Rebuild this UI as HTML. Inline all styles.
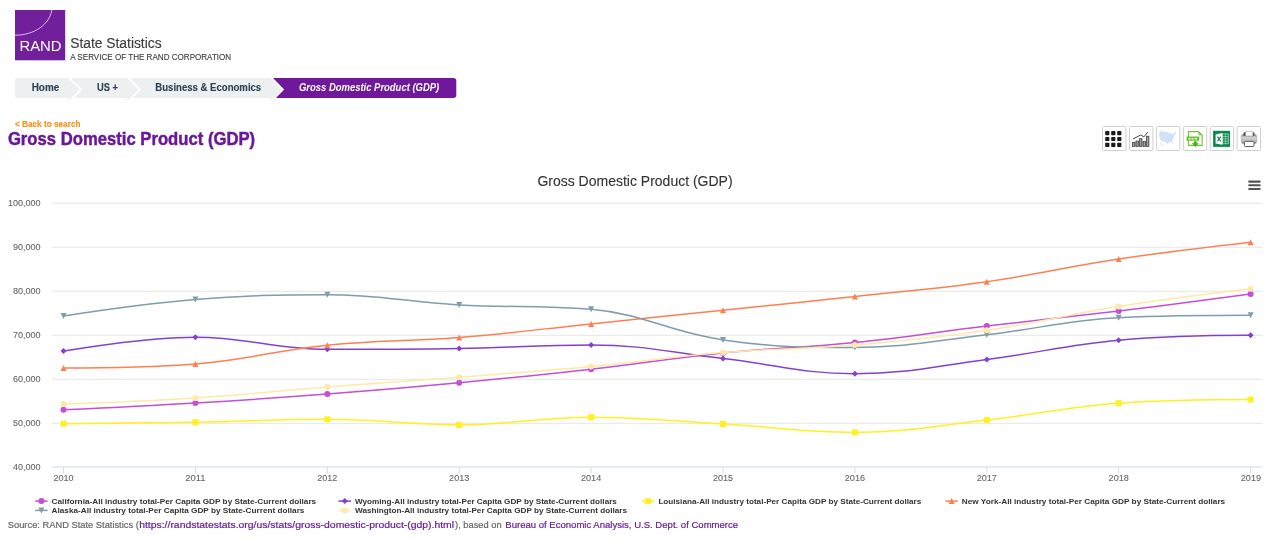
<!DOCTYPE html>
<html><head><meta charset="utf-8"><title>Gross Domestic Product (GDP)</title>
<style>
html,body{margin:0;padding:0;background:#fff;}
body{width:1270px;height:540px;position:relative;overflow:hidden;font-family:"Liberation Sans",sans-serif;}
.abs{position:absolute;white-space:nowrap;line-height:1;}
#logo{left:15px;top:10px;width:50px;height:50px;background:#711f9b;}
#rand{left:19.4px;top:39.6px;font-size:13px;letter-spacing:1.55px;color:#fff;}
#ss{left:69.6px;top:35.6px;font-size:14px;letter-spacing:-0.07px;color:#4a4a4a;}
#svc{left:70px;top:53.6px;font-size:8.1px;color:#4a4a4a;}
.bc{font-size:10px;font-weight:bold;letter-spacing:-0.2px;color:#34495e;top:83.2px;}
#bc4{color:#fff;font-style:italic;letter-spacing:-0.3px;}
#back{left:15px;top:119.8px;font-size:8.5px;font-weight:bold;letter-spacing:-0.15px;color:#f7941d;}
#h1{left:7.2px;top:130.2px;font-size:17.5px;font-weight:bold;letter-spacing:-0.45px;color:#6f1d9b;}
#src{left:7.4px;top:519.6px;font-size:9.87px;color:#666;}
#src span{color:#6f1d9b;}
svg{position:absolute;left:0;top:0;will-change:transform;font-family:"Liberation Sans",sans-serif;}
.ax{font-size:9px;fill:#666;stroke:#666;stroke-width:0.1px;font-family:"Liberation Sans",sans-serif;}
.ttl{font-size:14px;fill:#333;stroke:#333;stroke-width:0.15px;font-family:"Liberation Sans",sans-serif;}
.lg{font-size:8px;font-weight:bold;fill:#333;font-family:"Liberation Sans",sans-serif;}
</style></head><body>
<svg width="1270" height="540" viewBox="0 0 1270 540">
<!-- logo -->
<rect x="15" y="10" width="50.2" height="50.3" fill="#711f9b"/>
<path d="M51.9 10 C49.5 24 35 35.2 15 35.2" stroke="#e3cdef" stroke-width="0.9" fill="none"/>
<!-- breadcrumb -->
<g>
<rect x="15" y="78" width="60" height="20" rx="3" fill="#ecf0f1"/>
<rect x="30" y="78" width="241" height="20" fill="#ecf0f1"/>
<rect x="400" y="78" width="56.3" height="20" rx="3" fill="#70189c"/>
<rect x="270.5" y="78" width="170" height="20" fill="#70189c"/>
<path d="M270.5 75.6 L284.2 89.5 L270.5 103.4Z" fill="#fff"/>
<path d="M269.5 78 L270.5 78 L281.8 89.5 L270.5 101 L270.5 98 L269.5 98Z" fill="#ecf0f1"/>
<path d="M127.3 75.6 L141.0 89.5 L127.3 103.4Z" fill="#fff"/>
<path d="M126.3 78 L127.3 78 L138.6 89.5 L127.3 101 L127.3 98 L126.3 98Z" fill="#ecf0f1"/>
<path d="M68.3 75.6 L82.0 89.5 L68.3 103.4Z" fill="#fff"/>
<path d="M67.3 78 L68.3 78 L79.6 89.5 L68.3 101 L68.3 98 L67.3 98Z" fill="#ecf0f1"/>
</g>
<path d="M 52 203.3 L 1262.4 203.3" stroke="#e6e6e6" stroke-width="1" fill="none"/>
<path d="M 52 247.3 L 1262.4 247.3" stroke="#e6e6e6" stroke-width="1" fill="none"/>
<path d="M 52 291.3 L 1262.4 291.3" stroke="#e6e6e6" stroke-width="1" fill="none"/>
<path d="M 52 335.3 L 1262.4 335.3" stroke="#e6e6e6" stroke-width="1" fill="none"/>
<path d="M 52 379.3 L 1262.4 379.3" stroke="#e6e6e6" stroke-width="1" fill="none"/>
<path d="M 52 423.3 L 1262.4 423.3" stroke="#e6e6e6" stroke-width="1" fill="none"/>
<path d="M 52 467 L 1262 467" stroke="#ccd6eb" stroke-width="1" fill="none"/>
<path d="M 63.5 467 L 63.5 473.5" stroke="#d3dcef" stroke-width="1" fill="none"/>
<path d="M 195.4 467 L 195.4 473.5" stroke="#d3dcef" stroke-width="1" fill="none"/>
<path d="M 327.3 467 L 327.3 473.5" stroke="#d3dcef" stroke-width="1" fill="none"/>
<path d="M 459.2 467 L 459.2 473.5" stroke="#d3dcef" stroke-width="1" fill="none"/>
<path d="M 591.1 467 L 591.1 473.5" stroke="#d3dcef" stroke-width="1" fill="none"/>
<path d="M 723.0 467 L 723.0 473.5" stroke="#d3dcef" stroke-width="1" fill="none"/>
<path d="M 854.9 467 L 854.9 473.5" stroke="#d3dcef" stroke-width="1" fill="none"/>
<path d="M 986.8 467 L 986.8 473.5" stroke="#d3dcef" stroke-width="1" fill="none"/>
<path d="M 1118.7 467 L 1118.7 473.5" stroke="#d3dcef" stroke-width="1" fill="none"/>
<path d="M 1250.6 467 L 1250.6 473.5" stroke="#d3dcef" stroke-width="1" fill="none"/>
<path d="M 63.50 409.80 C 63.50 409.80 142.64 406.14 195.40 403.00 C 248.16 399.86 274.54 398.14 327.30 394.10 C 380.06 390.06 406.44 387.78 459.20 382.80 C 511.96 377.82 538.34 375.18 591.10 369.20 C 643.86 363.22 670.24 358.22 723.00 352.90 C 775.76 347.58 802.14 347.98 854.90 342.60 C 907.66 337.22 934.04 332.32 986.80 326.00 C 1039.56 319.68 1065.94 317.38 1118.70 311.00 C 1171.46 304.62 1250.60 294.10 1250.60 294.10" stroke="#c34fd6" stroke-width="1.5" fill="none" stroke-linejoin="round" stroke-linecap="round"/>
<circle cx="63.50" cy="409.80" r="3" fill="#c34fd6"/>
<circle cx="195.40" cy="403.00" r="3" fill="#c34fd6"/>
<circle cx="327.30" cy="394.10" r="3" fill="#c34fd6"/>
<circle cx="459.20" cy="382.80" r="3" fill="#c34fd6"/>
<circle cx="591.10" cy="369.20" r="3" fill="#c34fd6"/>
<circle cx="723.00" cy="352.90" r="3" fill="#c34fd6"/>
<circle cx="854.90" cy="342.60" r="3" fill="#c34fd6"/>
<circle cx="986.80" cy="326.00" r="3" fill="#c34fd6"/>
<circle cx="1118.70" cy="311.00" r="3" fill="#c34fd6"/>
<circle cx="1250.60" cy="294.10" r="3" fill="#c34fd6"/>
<path d="M 63.50 351.10 C 63.50 351.10 142.64 337.20 195.40 337.20 C 248.16 337.20 274.54 349.30 327.30 349.30 C 380.06 349.30 406.44 349.28 459.20 348.40 C 511.96 347.52 538.34 344.90 591.10 344.90 C 643.86 344.90 670.24 352.72 723.00 358.50 C 775.76 364.28 802.14 373.80 854.90 373.80 C 907.66 373.80 934.04 366.22 986.80 359.50 C 1039.56 352.78 1065.94 345.04 1118.70 340.20 C 1171.46 335.36 1250.60 335.30 1250.60 335.30" stroke="#8340d0" stroke-width="1.5" fill="none" stroke-linejoin="round" stroke-linecap="round"/>
<path d="M 63.50 348.10 L 66.50 351.10 L 63.50 354.10 L 60.50 351.10 Z" fill="#8340d0"/>
<path d="M 195.40 334.20 L 198.40 337.20 L 195.40 340.20 L 192.40 337.20 Z" fill="#8340d0"/>
<path d="M 327.30 346.30 L 330.30 349.30 L 327.30 352.30 L 324.30 349.30 Z" fill="#8340d0"/>
<path d="M 459.20 345.40 L 462.20 348.40 L 459.20 351.40 L 456.20 348.40 Z" fill="#8340d0"/>
<path d="M 591.10 341.90 L 594.10 344.90 L 591.10 347.90 L 588.10 344.90 Z" fill="#8340d0"/>
<path d="M 723.00 355.50 L 726.00 358.50 L 723.00 361.50 L 720.00 358.50 Z" fill="#8340d0"/>
<path d="M 854.90 370.80 L 857.90 373.80 L 854.90 376.80 L 851.90 373.80 Z" fill="#8340d0"/>
<path d="M 986.80 356.50 L 989.80 359.50 L 986.80 362.50 L 983.80 359.50 Z" fill="#8340d0"/>
<path d="M 1118.70 337.20 L 1121.70 340.20 L 1118.70 343.20 L 1115.70 340.20 Z" fill="#8340d0"/>
<path d="M 1250.60 332.30 L 1253.60 335.30 L 1250.60 338.30 L 1247.60 335.30 Z" fill="#8340d0"/>
<path d="M 63.50 423.70 C 63.50 423.70 142.64 423.08 195.40 422.20 C 248.16 421.32 274.54 419.30 327.30 419.30 C 380.06 419.30 406.44 424.90 459.20 424.90 C 511.96 424.90 538.34 417.20 591.10 417.20 C 643.86 417.20 670.24 420.96 723.00 424.00 C 775.76 427.04 802.14 432.40 854.90 432.40 C 907.66 432.40 934.04 425.84 986.80 420.00 C 1039.56 414.16 1065.94 406.80 1118.70 403.20 C 1171.46 399.60 1250.60 399.60 1250.60 399.60" stroke="#fff11f" stroke-width="1.5" fill="none" stroke-linejoin="round" stroke-linecap="round"/>
<rect x="60.50" y="420.70" width="6" height="6" fill="#fff11f"/>
<rect x="192.40" y="419.20" width="6" height="6" fill="#fff11f"/>
<rect x="324.30" y="416.30" width="6" height="6" fill="#fff11f"/>
<rect x="456.20" y="421.90" width="6" height="6" fill="#fff11f"/>
<rect x="588.10" y="414.20" width="6" height="6" fill="#fff11f"/>
<rect x="720.00" y="421.00" width="6" height="6" fill="#fff11f"/>
<rect x="851.90" y="429.40" width="6" height="6" fill="#fff11f"/>
<rect x="983.80" y="417.00" width="6" height="6" fill="#fff11f"/>
<rect x="1115.70" y="400.20" width="6" height="6" fill="#fff11f"/>
<rect x="1247.60" y="396.60" width="6" height="6" fill="#fff11f"/>
<path d="M 63.50 368.00 C 63.50 368.00 142.64 368.00 195.40 363.90 C 248.16 359.80 274.54 350.48 327.30 345.20 C 380.06 339.92 406.44 341.76 459.20 337.50 C 511.96 333.24 538.34 329.36 591.10 323.90 C 643.86 318.44 670.24 315.68 723.00 310.20 C 775.76 304.72 802.14 302.20 854.90 296.50 C 907.66 290.80 934.04 289.20 986.80 281.70 C 1039.56 274.20 1065.94 266.90 1118.70 259.00 C 1171.46 251.10 1250.60 242.20 1250.60 242.20" stroke="#ff7f50" stroke-width="1.5" fill="none" stroke-linejoin="round" stroke-linecap="round"/>
<path d="M 63.50 365.00 L 66.50 371.00 L 60.50 371.00 Z" fill="#ff7f50"/>
<path d="M 195.40 360.90 L 198.40 366.90 L 192.40 366.90 Z" fill="#ff7f50"/>
<path d="M 327.30 342.20 L 330.30 348.20 L 324.30 348.20 Z" fill="#ff7f50"/>
<path d="M 459.20 334.50 L 462.20 340.50 L 456.20 340.50 Z" fill="#ff7f50"/>
<path d="M 591.10 320.90 L 594.10 326.90 L 588.10 326.90 Z" fill="#ff7f50"/>
<path d="M 723.00 307.20 L 726.00 313.20 L 720.00 313.20 Z" fill="#ff7f50"/>
<path d="M 854.90 293.50 L 857.90 299.50 L 851.90 299.50 Z" fill="#ff7f50"/>
<path d="M 986.80 278.70 L 989.80 284.70 L 983.80 284.70 Z" fill="#ff7f50"/>
<path d="M 1118.70 256.00 L 1121.70 262.00 L 1115.70 262.00 Z" fill="#ff7f50"/>
<path d="M 1250.60 239.20 L 1253.60 245.20 L 1247.60 245.20 Z" fill="#ff7f50"/>
<path d="M 63.50 316.10 C 63.50 316.10 142.64 303.86 195.40 299.60 C 248.16 295.34 274.54 294.80 327.30 294.80 C 380.06 294.80 406.44 302.00 459.20 304.90 C 511.96 307.80 538.34 304.90 591.10 309.30 C 643.86 313.70 670.24 332.40 723.00 339.90 C 775.76 347.40 802.14 347.40 854.90 347.40 C 907.66 347.40 934.04 340.74 986.80 334.80 C 1039.56 328.86 1065.94 320.10 1118.70 317.70 C 1171.46 315.30 1250.60 315.30 1250.60 315.30" stroke="#7f9cab" stroke-width="1.5" fill="none" stroke-linejoin="round" stroke-linecap="round"/>
<path d="M 60.50 313.10 L 66.50 313.10 L 63.50 319.10 Z" fill="#7f9cab"/>
<path d="M 192.40 296.60 L 198.40 296.60 L 195.40 302.60 Z" fill="#7f9cab"/>
<path d="M 324.30 291.80 L 330.30 291.80 L 327.30 297.80 Z" fill="#7f9cab"/>
<path d="M 456.20 301.90 L 462.20 301.90 L 459.20 307.90 Z" fill="#7f9cab"/>
<path d="M 588.10 306.30 L 594.10 306.30 L 591.10 312.30 Z" fill="#7f9cab"/>
<path d="M 720.00 336.90 L 726.00 336.90 L 723.00 342.90 Z" fill="#7f9cab"/>
<path d="M 851.90 344.40 L 857.90 344.40 L 854.90 350.40 Z" fill="#7f9cab"/>
<path d="M 983.80 331.80 L 989.80 331.80 L 986.80 337.80 Z" fill="#7f9cab"/>
<path d="M 1115.70 314.70 L 1121.70 314.70 L 1118.70 320.70 Z" fill="#7f9cab"/>
<path d="M 1247.60 312.30 L 1253.60 312.30 L 1250.60 318.30 Z" fill="#7f9cab"/>
<path d="M 63.50 403.90 C 63.50 403.90 142.64 401.28 195.40 397.90 C 248.16 394.52 274.54 391.14 327.30 387.00 C 380.06 382.86 406.44 381.30 459.20 377.20 C 511.96 373.10 538.34 371.42 591.10 366.50 C 643.86 361.58 670.24 356.88 723.00 352.60 C 775.76 348.32 802.14 349.56 854.90 345.10 C 907.66 340.64 934.04 338.02 986.80 330.30 C 1039.56 322.58 1065.94 314.80 1118.70 306.50 C 1171.46 298.20 1250.60 288.80 1250.60 288.80" stroke="#ffe9a8" stroke-width="1.5" fill="none" stroke-linejoin="round" stroke-linecap="round"/>
<circle cx="63.50" cy="403.90" r="3" fill="#ffe9a8"/>
<circle cx="195.40" cy="397.90" r="3" fill="#ffe9a8"/>
<circle cx="327.30" cy="387.00" r="3" fill="#ffe9a8"/>
<circle cx="459.20" cy="377.20" r="3" fill="#ffe9a8"/>
<circle cx="591.10" cy="366.50" r="3" fill="#ffe9a8"/>
<circle cx="723.00" cy="352.60" r="3" fill="#ffe9a8"/>
<circle cx="854.90" cy="345.10" r="3" fill="#ffe9a8"/>
<circle cx="986.80" cy="330.30" r="3" fill="#ffe9a8"/>
<circle cx="1118.70" cy="306.50" r="3" fill="#ffe9a8"/>
<circle cx="1250.60" cy="288.80" r="3" fill="#ffe9a8"/>
<text x="40.5" y="206.2" text-anchor="end" class="ax">100,000</text>
<text x="40.5" y="250.2" text-anchor="end" class="ax">90,000</text>
<text x="40.5" y="294.2" text-anchor="end" class="ax">80,000</text>
<text x="40.5" y="338.2" text-anchor="end" class="ax">70,000</text>
<text x="40.5" y="382.2" text-anchor="end" class="ax">60,000</text>
<text x="40.5" y="426.2" text-anchor="end" class="ax">50,000</text>
<text x="40.5" y="470.2" text-anchor="end" class="ax">40,000</text>
<text x="63.5" y="481" text-anchor="middle" class="ax" style="font-size:9.5px" textLength="20.2" lengthAdjust="spacingAndGlyphs">2010</text>
<text x="195.4" y="481" text-anchor="middle" class="ax" style="font-size:9.5px" textLength="20.2" lengthAdjust="spacingAndGlyphs">2011</text>
<text x="327.3" y="481" text-anchor="middle" class="ax" style="font-size:9.5px" textLength="20.2" lengthAdjust="spacingAndGlyphs">2012</text>
<text x="459.2" y="481" text-anchor="middle" class="ax" style="font-size:9.5px" textLength="20.2" lengthAdjust="spacingAndGlyphs">2013</text>
<text x="591.1" y="481" text-anchor="middle" class="ax" style="font-size:9.5px" textLength="20.2" lengthAdjust="spacingAndGlyphs">2014</text>
<text x="723.0" y="481" text-anchor="middle" class="ax" style="font-size:9.5px" textLength="20.2" lengthAdjust="spacingAndGlyphs">2015</text>
<text x="854.9" y="481" text-anchor="middle" class="ax" style="font-size:9.5px" textLength="20.2" lengthAdjust="spacingAndGlyphs">2016</text>
<text x="986.8" y="481" text-anchor="middle" class="ax" style="font-size:9.5px" textLength="20.2" lengthAdjust="spacingAndGlyphs">2017</text>
<text x="1118.7" y="481" text-anchor="middle" class="ax" style="font-size:9.5px" textLength="20.2" lengthAdjust="spacingAndGlyphs">2018</text>
<text x="1261.0" y="481" text-anchor="end" class="ax" style="font-size:9.5px" textLength="20.2" lengthAdjust="spacingAndGlyphs">2019</text>
<text x="537.4" y="186" textLength="195.2" lengthAdjust="spacingAndGlyphs" font-size="14.7" font-weight="normal" font-style="normal" fill="#333" text-anchor="start" stroke="#333" stroke-width="0.12">Gross Domestic Product (GDP)</text>
<path d="M 1249.2 181.6 L 1259.7 181.6" stroke="#555" stroke-width="2.1" stroke-linecap="round" fill="none"/>
<path d="M 1249.2 185.3 L 1259.7 185.3" stroke="#555" stroke-width="2.1" stroke-linecap="round" fill="none"/>
<path d="M 1249.2 189.0 L 1259.7 189.0" stroke="#555" stroke-width="2.1" stroke-linecap="round" fill="none"/>
<path d="M 35.2 501.1 L 47.6 501.1" stroke="#c34fd6" stroke-width="1.5" fill="none"/>
<circle cx="41.40" cy="501.10" r="3" fill="#c34fd6"/>
<text x="51.6" y="503.9" class="lg" textLength="264.6" lengthAdjust="spacingAndGlyphs">California-All industry total-Per Capita GDP by State-Current dollars</text>
<path d="M 338.6 501.1 L 351.0 501.1" stroke="#8340d0" stroke-width="1.5" fill="none"/>
<path d="M 344.80 498.10 L 347.80 501.10 L 344.80 504.10 L 341.80 501.10 Z" fill="#8340d0"/>
<text x="355.0" y="503.9" class="lg" textLength="261.9" lengthAdjust="spacingAndGlyphs">Wyoming-All industry total-Per Capita GDP by State-Current dollars</text>
<path d="M 642.0 501.1 L 654.4 501.1" stroke="#fff11f" stroke-width="1.5" fill="none"/>
<rect x="645.20" y="498.10" width="6" height="6" fill="#fff11f"/>
<text x="658.4" y="503.9" class="lg" textLength="262.9" lengthAdjust="spacingAndGlyphs">Louisiana-All industry total-Per Capita GDP by State-Current dollars</text>
<path d="M 945.4 501.1 L 957.8 501.1" stroke="#ff7f50" stroke-width="1.5" fill="none"/>
<path d="M 951.60 498.10 L 954.60 504.10 L 948.60 504.10 Z" fill="#ff7f50"/>
<text x="961.8" y="503.9" class="lg" textLength="263.4" lengthAdjust="spacingAndGlyphs">New York-All industry total-Per Capita GDP by State-Current dollars</text>
<path d="M 35.2 510.4 L 47.6 510.4" stroke="#7f9cab" stroke-width="1.5" fill="none"/>
<path d="M 38.40 507.40 L 44.40 507.40 L 41.40 513.40 Z" fill="#7f9cab"/>
<text x="51.6" y="513.2" class="lg" textLength="252.8" lengthAdjust="spacingAndGlyphs">Alaska-All industry total-Per Capita GDP by State-Current dollars</text>
<path d="M 338.6 510.4 L 351.0 510.4" stroke="#ffe9a8" stroke-width="1.5" fill="none"/>
<circle cx="344.80" cy="510.40" r="3" fill="#ffe9a8"/>
<text x="355.0" y="513.2" class="lg" textLength="272.1" lengthAdjust="spacingAndGlyphs">Washington-All industry total-Per Capita GDP by State-Current dollars</text>
<text x="19.4" y="51.3" textLength="42.2" lengthAdjust="spacingAndGlyphs" font-size="14.3" font-weight="normal" font-style="normal" fill="#fff" text-anchor="start" >RAND</text>
<text x="70.2" y="48.2" textLength="91.4" lengthAdjust="spacingAndGlyphs" font-size="15.2" font-weight="normal" font-style="normal" fill="#3c3c3c" text-anchor="start" stroke="#3c3c3c" stroke-width="0.15">State Statistics</text>
<text x="70.2" y="60.3" textLength="161" lengthAdjust="spacingAndGlyphs" font-size="9" font-weight="normal" font-style="normal" fill="#3c3c3c" text-anchor="start" stroke="#3c3c3c" stroke-width="0.12">A SERVICE OF THE RAND CORPORATION</text>
<text x="31.7" y="91.1" textLength="27.5" lengthAdjust="spacingAndGlyphs" font-size="10.2" font-weight="bold" font-style="normal" fill="#2c3e50" text-anchor="start" stroke="#2c3e50" stroke-width="0.12">Home</text>
<text x="97.0" y="91.1" textLength="21.1" lengthAdjust="spacingAndGlyphs" font-size="10.2" font-weight="bold" font-style="normal" fill="#2c3e50" text-anchor="start" stroke="#2c3e50" stroke-width="0.12">US +</text>
<text x="155.3" y="91.1" textLength="105.9" lengthAdjust="spacingAndGlyphs" font-size="10.2" font-weight="bold" font-style="normal" fill="#2c3e50" text-anchor="start" stroke="#2c3e50" stroke-width="0.12">Business &amp; Economics</text>
<text x="299.0" y="91.1" textLength="140.2" lengthAdjust="spacingAndGlyphs" font-size="10.2" font-weight="bold" font-style="italic" fill="#fff" text-anchor="start" >Gross Domestic Product (GDP)</text>
<text x="14.9" y="127.0" textLength="65.6" lengthAdjust="spacingAndGlyphs" font-size="8.8" font-weight="bold" font-style="normal" fill="#f5901a" text-anchor="start" stroke="#f5901a" stroke-width="0.15">&lt; Back to search</text>
<text x="7.9" y="144.8" textLength="247.2" lengthAdjust="spacingAndGlyphs" font-size="17.8" font-weight="bold" font-style="normal" fill="#69179b" text-anchor="start" stroke="#69179b" stroke-width="0.45">Gross Domestic Product (GDP)</text>
<text x="7.8" y="527.7" textLength="131.0" lengthAdjust="spacingAndGlyphs" font-size="9.5" font-weight="normal" font-style="normal" fill="#666" text-anchor="start" stroke="#666" stroke-width="0.2">Source: RAND State Statistics (</text>
<text x="139.2" y="527.7" textLength="314.9" lengthAdjust="spacingAndGlyphs" font-size="9.5" font-weight="normal" font-style="normal" fill="#6a1b9a" text-anchor="start" stroke="#6a1b9a" stroke-width="0.2">https://randstatestats.org/us/stats/gross-domestic-product-(gdp).html</text>
<text x="455.1" y="527.7" textLength="46.5" lengthAdjust="spacingAndGlyphs" font-size="9.5" font-weight="normal" font-style="normal" fill="#666" text-anchor="start" stroke="#666" stroke-width="0.2">), based on</text>
<text x="505.3" y="527.7" textLength="232.8" lengthAdjust="spacingAndGlyphs" font-size="9.5" font-weight="normal" font-style="normal" fill="#6a1b9a" text-anchor="start" stroke="#6a1b9a" stroke-width="0.2">Bureau of Economic Analysis, U.S. Dept. of Commerce</text>
<!-- ICONS -->
<defs>
<linearGradient id="gb" x1="0" y1="0" x2="1" y2="0"><stop offset="0" stop-color="#6a6a6a"/><stop offset="0.5" stop-color="#b0b0b0"/><stop offset="1" stop-color="#777"/></linearGradient>
<linearGradient id="gp" x1="0" y1="0" x2="0" y2="1"><stop offset="0" stop-color="#8c8c8c"/><stop offset="0.35" stop-color="#d2d2d2"/><stop offset="0.7" stop-color="#bdbdbd"/><stop offset="1" stop-color="#7c7c7c"/></linearGradient>
</defs>
<g fill="#fff" stroke="#cfcfcf" stroke-width="1">
<rect x="1102.5" y="126.5" width="23.4" height="24" rx="1"/>
<rect x="1129.5" y="126.5" width="23.4" height="24" rx="1"/>
<rect x="1156.4" y="126.5" width="23.4" height="24" rx="1"/>
<rect x="1183.3" y="126.5" width="23.4" height="24" rx="1"/>
<rect x="1210.2" y="126.5" width="23.4" height="24" rx="1"/>
<rect x="1237.1" y="126.5" width="23.4" height="24" rx="1"/>
</g>
<!-- grid icon -->
<g fill="#1a1a1a">
<rect x="1105.2" y="131" width="4.2" height="4.2" rx="0.8"/><rect x="1111.2" y="131" width="4.2" height="4.2" rx="0.8"/><rect x="1117.2" y="131" width="4.2" height="4.2" rx="0.8"/>
<rect x="1105.2" y="136.9" width="4.2" height="4.2" rx="0.8"/><rect x="1111.2" y="136.9" width="4.2" height="4.2" rx="0.8"/><rect x="1117.2" y="136.9" width="4.2" height="4.2" rx="0.8"/>
<rect x="1105.2" y="142.8" width="4.2" height="4.2" rx="0.8"/><rect x="1111.2" y="142.8" width="4.2" height="4.2" rx="0.8"/><rect x="1117.2" y="142.8" width="4.2" height="4.2" rx="0.8"/>
</g>
<!-- chart icon -->
<g stroke="#3a3a3a" stroke-width="0.7" fill="url(#gb)">
<rect x="1132.4" y="142.4" width="2.5" height="4.1"/>
<rect x="1135.9" y="141" width="2.5" height="5.5"/>
<rect x="1139.5" y="138.7" width="2.5" height="7.8"/>
<rect x="1143.0" y="141.3" width="2.5" height="5.2"/>
<rect x="1146.4" y="136.2" width="2.5" height="10.3"/>
</g>
<path d="M1133.3 138.8 L1140.6 135 L1143.9 136.9 L1147.7 132.2" stroke="#333" stroke-width="0.9" fill="none" stroke-linecap="round" stroke-linejoin="round"/>
<!-- US map icon -->
<path d="M1159.6 131.3 L1164.8 131.5 L1169.6 132.9 L1172.3 134.2 L1174.2 133.4 L1175.8 131.3 L1176 133.1 L1174.7 135.6 L1173.6 137.4 L1172.8 139.6 L1171.7 141.2 L1173.1 142.8 L1173.6 144.7 L1172.8 144.4 L1172 142.5 L1170.1 142 L1168.5 142.5 L1167.7 144.4 L1166.6 142.8 L1164.8 141.7 L1162.1 141.2 L1160.2 139.6 L1159.1 136.4 L1159.4 133.1 Z" fill="#cfe2f8"/>
<path d="M1159.4 142.6 L1161.6 142.4 L1162.6 143.8 L1163.8 145.6 L1162 146 L1161 144.6 L1159.8 143.8 Z" fill="#e3eefb"/>
<!-- CSV icon -->
<g>
<path d="M1188.4 131.6 L1198.6 131.6 L1202.2 135.2 L1202.2 145.4 L1188.4 145.4 Z" fill="#fff" stroke="#6ec531" stroke-width="1.1" stroke-linejoin="round"/>
<path d="M1198.6 131.6 L1198.6 135.2 L1202.2 135.2 Z" fill="#6ec531"/>
<rect x="1186.5" y="136.6" width="12.8" height="4.2" rx="0.6" fill="#6ec531"/>
<path d="M1188.6 137.9 h2 v1.6 h-2z M1191.6 137.9 h2 v1.6 h-2z M1194.6 137.9 h2.4 v1.6 h-2.4z" fill="#eaf7df"/>
<path d="M1193.9 141.3 L1196.7 141.3 L1196.7 143.3 L1198.7 143.3 L1195.3 147 L1191.9 143.3 L1193.9 143.3 Z" fill="#45b012"/>
</g>
<!-- Excel icon -->
<g>
<rect x="1213.1" y="130.8" width="16.9" height="16.1" fill="#0b8a50"/>
<rect x="1222.6" y="134" width="5.6" height="9.8" fill="#0b8a50" stroke="#dff0e6" stroke-width="0.6"/>
<path d="M1222.6 136.5 L1228.2 136.5 M1222.6 138.9 L1228.2 138.9 M1222.6 141.3 L1228.2 141.3 M1225.4 134 L1225.4 143.8" stroke="#dff0e6" stroke-width="0.5"/>
<path d="M1215.6 134.4 L1222.4 133 L1222.4 144.8 L1215.6 143.4 Z" fill="#fff"/>
<path d="M1217.4 136.6 L1220.8 141.4 M1220.8 136.6 L1217.4 141.4" stroke="#0b8a50" stroke-width="1.1"/>
</g>
<!-- Printer icon -->
<g>
<rect x="1241.2" y="134.3" width="15.6" height="9.4" rx="2.6" fill="url(#gp)" stroke="#8a8a8a" stroke-width="0.4"/>
<rect x="1243.5" y="132.3" width="11" height="3.8" rx="1.2" fill="#505050"/>
<rect x="1245.5" y="131.3" width="7.4" height="4.7" rx="0.6" fill="#fff" stroke="#888" stroke-width="0.5"/>
<rect x="1244.4" y="141.3" width="9.6" height="5.2" rx="0.9" fill="#fff" stroke="#4a4a4a" stroke-width="0.9"/>
</g>

</svg>
</body></html>
